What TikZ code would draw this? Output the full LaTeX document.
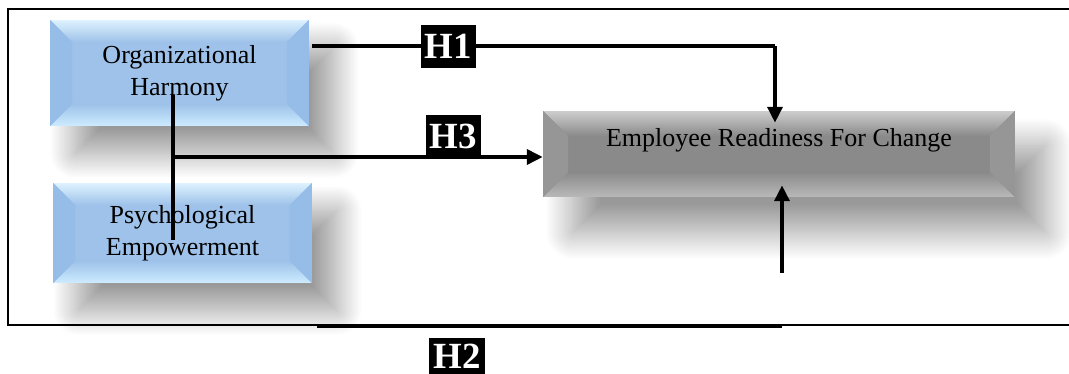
\documentclass[tikz,border=0pt]{standalone}
\usepackage{fontspec}
\setmainfont{Liberation Serif}
\usetikzlibrary{calc,positioning,arrows.meta,shadows.blur}

\definecolor{bltop}{RGB}{222,242,255}
\definecolor{blface}{RGB}{158,194,233}
\definecolor{blbot}{RGB}{205,236,255}
\definecolor{blside}{RGB}{150,188,232}
\definecolor{grtop}{RGB}{205,205,205}
\definecolor{grface}{RGB}{138,138,138}
\definecolor{grbot}{RGB}{185,185,185}
\definecolor{grside}{RGB}{150,150,150}

% bevel faces: top, face, bottom, side, size
\newcommand{\bevelpaint}[5]{%
  \path (path picture bounding box.north west) coordinate (bb-nw)
        (path picture bounding box.north east) coordinate (bb-ne)
        (path picture bounding box.south west) coordinate (bb-sw)
        (path picture bounding box.south east) coordinate (bb-se);
  \fill[top color=#1,bottom color=#2] (bb-nw) -- (bb-ne) -- ($(bb-ne)+(-#5,-#5)$) -- ($(bb-nw)+(#5,-#5)$) -- cycle;
  \fill[top color=#2,bottom color=#3] (bb-sw) -- (bb-se) -- ($(bb-se)+(-#5,#5)$) -- ($(bb-sw)+(#5,#5)$) -- cycle;
  \fill[#4] (bb-nw) -- ($(bb-nw)+(#5,-#5)$) -- ($(bb-sw)+(#5,#5)$) -- (bb-sw) -- cycle;
  \fill[#4] (bb-ne) -- ($(bb-ne)+(-#5,-#5)$) -- ($(bb-se)+(-#5,#5)$) -- (bb-se) -- cycle;
}

\begin{document}
\begin{tikzpicture}[x=0.02cm,y=-0.02cm,
    bluebox/.style={fill=blface,minimum width=5.18cm,align=center,
      font=\fontsize{14.8}{18}\selectfont,
      blur shadow={shadow xshift=0.5cm,shadow yshift=-0.55cm,shadow blur radius=0.5cm,shadow blur steps=30,shadow opacity=40},
      path picture={\bevelpaint{bltop}{blface}{blbot}{blside}{0.44cm}}},
    greybox/.style={fill=grface,minimum width=9.44cm,minimum height=1.72cm,
      font=\fontsize{14.8}{18}\selectfont,text height=10pt,text depth=18pt,
      blur shadow={shadow xshift=0.6cm,shadow yshift=-0.7cm,shadow blur radius=0.55cm,shadow blur steps=30,shadow opacity=40},
      path picture={\bevelpaint{grtop}{grface}{grbot}{grside}{0.5cm}}},
    hyp/.style={fill=black,text=white,font=\fontsize{21}{21}\bfseries,inner xsep=2.5pt,inner ysep=1pt,minimum height=24pt},
    wire/.style={line width=2pt},
    link/.style={wire,-{Triangle[width=8.5pt,length=9pt]}}]

  \useasboundingbox (0,0) rectangle (1069,374);
  \draw[line width=1.2pt] (8,9) rectangle (1080,325);

  \node[bluebox,minimum height=2.12cm] (OH) at (179.5,73) {Organizational\\Harmony};
  \node[bluebox,minimum height=2cm] (PE) at (182.5,233) {Psychological\\Empowerment};
  \node[greybox] (ERC) at (779,154) {Employee Readiness For Change};

  \coordinate (h1s) at (312,46);
  \coordinate (h1c) at (775,46);
  \coordinate (trunktop) at (173,95);
  \coordinate (trunkbot) at (173,240);
  \coordinate (h3s) at (173,157);
  \coordinate (h2s) at (317,326);
  \coordinate (h2c) at (782,326);
  \coordinate (h2up) at (782,273);

  \draw[wire] (h1s) -- (h1c);
  \draw[link] (h1c) -- ($(h1c |- ERC.north)+(0,12)$);
  \draw[wire] (trunktop) -- (trunkbot);
  \draw[link] (h3s) -- (h3s -| ERC.west);
  \draw[line width=2.4pt] (h2s) -- (h2c);
  \draw[link] (h2up) -- ($(h2up |- ERC.south)+(0,-12)$);

  \node[hyp] (H1) at (448.5,46.5) {H1};
  \node[hyp] (H3) at (453.5,136) {H3};
  \node[hyp,minimum height=20pt,inner ysep=0pt] (H2) at (457,356) {H2};
\end{tikzpicture}
\end{document}
